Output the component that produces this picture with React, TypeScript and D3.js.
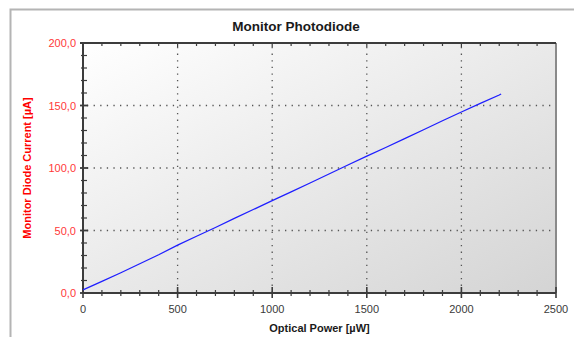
import * as d3 from 'd3'
import { useEffect, useRef } from 'react'

const W = 574
const H = 337
const M = { top: 43, right: 18, bottom: 44, left: 83 }

// optical power [µW] vs monitor diode current [µA]
const powerUW = [0, 100, 200, 300, 400, 500, 600, 700, 800, 900, 1000, 1100, 1200, 1300, 1400, 1500, 1600, 1700, 1800, 1900, 2000, 2100, 2200, 2210]
const currentUA = [2.5, 9.3, 16.2, 23.4, 30.6, 38.3, 45.4, 52.4, 59.7, 66.8, 73.9, 80.9, 88.0, 95.2, 102.4, 109.5, 116.4, 123.5, 130.6, 137.8, 144.8, 151.7, 158.4, 159.2]

const xMajor = [0, 500, 1000, 1500, 2000, 2500]
const yMajor = [0, 50, 100, 150, 200]

const TITLE = 'Monitor Photodiode'
const X_LABEL = 'Optical Power [µW]'
const Y_LABEL = 'Monitor Diode Current [µA]'

export default function App() {
  const svgRef = useRef<SVGSVGElement>(null)

  useEffect(() => {
    const svgEl = svgRef.current
    if (!svgEl) return
    const svg = d3.select(svgEl)
    svg.selectAll('*').remove()

    const innerW = W - M.left - M.right
    const innerH = H - M.top - M.bottom
    const x = d3.scaleLinear().domain([0, 2500]).range([M.left, M.left + innerW])
    const y = d3.scaleLinear().domain([0, 200]).range([M.top + innerH, M.top])

    // outer frame
    svg.append('path').attr('d', `M10.5,${H} L10.5,9.5 L${W},9.5`).attr('fill', 'none').attr('stroke', '#b4b4b4').attr('stroke-width', 2)

    const defs = svg.append('defs')
    const grad = defs.append('linearGradient').attr('id', 'bgGrad').attr('x1', '0%').attr('y1', '0%').attr('x2', '100%').attr('y2', '100%')
    grad.append('stop').attr('offset', '0%').attr('stop-color', '#ffffff')
    grad.append('stop').attr('offset', '100%').attr('stop-color', '#d4d4d4')

    svg.append('rect')
      .attr('x', M.left).attr('y', M.top).attr('width', innerW).attr('height', innerH)
      .attr('fill', 'url(#bgGrad)')

    // dotted grid
    const grid = svg.append('g').attr('stroke', '#555').attr('stroke-width', 1.3).attr('stroke-dasharray', '1.3 5.3')
    xMajor.filter((v) => v > 0 && v < 2500).forEach((v) => {
      grid.append('line').attr('x1', x(v)).attr('x2', x(v)).attr('y1', y(200) + 4).attr('y2', y(0))
    })
    yMajor.filter((v) => v > 0 && v < 200).forEach((v) => {
      grid.append('line').attr('x1', x(0) + 4).attr('x2', x(2500)).attr('y1', y(v)).attr('y2', y(v))
    })

    // right border
    svg.append('line').attr('x1', x(2500)).attr('x2', x(2500)).attr('y1', M.top).attr('y2', y(0))
      .attr('stroke', '#8a8a8a').attr('stroke-width', 2)

    const axes = svg.append('g').attr('stroke', '#3c3c3c')
    // top, bottom and left axis lines
    axes.append('line').attr('x1', x(0) - 3).attr('x2', x(2500)).attr('y1', M.top).attr('y2', M.top).attr('stroke-width', 2)
    axes.append('line').attr('x1', x(0)).attr('x2', x(2500)).attr('y1', y(0)).attr('y2', y(0)).attr('stroke-width', 2)
    axes.append('line').attr('x1', x(0)).attr('x2', x(0)).attr('y1', M.top).attr('y2', y(0)).attr('stroke-width', 2)

    // x ticks
    x.ticks(25).forEach((v) => {
      const major = v % 500 === 0
      axes.append('line').attr('x1', x(v)).attr('x2', x(v))
        .attr('y1', y(0) - (major ? 6 : 3)).attr('y2', y(0) + (major ? 5 : 3))
        .attr('stroke-width', major ? 1.6 : 1.2)
      if (v > 0 && v < 2500) {
        axes.append('line').attr('x1', x(v)).attr('x2', x(v))
          .attr('y1', M.top).attr('y2', M.top + (major ? 4 : 3)).attr('stroke-width', 1.2)
      }
    })
    // y ticks
    y.ticks(20).forEach((v) => {
      if (v === 200) return
      const major = v % 50 === 0
      axes.append('line').attr('y1', y(v)).attr('y2', y(v))
        .attr('x1', x(0) - (major ? 3 : 2)).attr('x2', x(0) + (major ? 5 : 4))
        .attr('stroke-width', major ? 1.8 : 1.2)
    })

    // labels
    const font = '"Liberation Sans", Arial, sans-serif'
    svg.append('text').attr('x', 296).attr('y', 31).attr('text-anchor', 'middle')
      .attr('font-family', font).attr('font-size', 13.5).attr('font-weight', 'bold').attr('fill', '#1a1a1a').text(TITLE)

    yMajor.forEach((v) => {
      svg.append('text').attr('x', x(0) - 7).attr('y', y(v) + 4).attr('text-anchor', 'end')
        .attr('font-family', font).attr('font-size', 11).attr('fill', '#ff3838')
        .text(d3.format('.1f')(v).replace('.', ','))
    })
    xMajor.forEach((v) => {
      svg.append('text').attr('x', x(v)).attr('y', y(0) + 20).attr('text-anchor', 'middle')
        .attr('font-family', font).attr('font-size', 11).attr('fill', '#3a3a3a').text(String(v))
    })
    svg.append('text').attr('x', (x(0) + x(2500)) / 2).attr('y', 332).attr('text-anchor', 'middle')
      .attr('font-family', font).attr('font-size', 11).attr('font-weight', 'bold').attr('fill', '#1a1a1a').text(X_LABEL)
    svg.append('text').attr('transform', `translate(31,${(M.top + y(0)) / 2}) rotate(-90)`).attr('text-anchor', 'middle')
      .attr('font-family', font).attr('font-size', 11).attr('font-weight', 'bold').attr('fill', '#ff0000').text(Y_LABEL)

    // curve
    const pts = powerUW.map((p, i) => [p, currentUA[i]] as [number, number])
    const line = d3.line<[number, number]>().x((d) => x(d[0])).y((d) => y(d[1]))
    svg.append('path').attr('d', line(pts) ?? '').attr('fill', 'none').attr('stroke', '#1f1fff').attr('stroke-width', 1.3)
  }, [])

  return (
    <svg ref={svgRef} width={W} height={H} style={{ position: 'absolute', left: 0, top: 0, background: '#fff' }} />
  )
}
